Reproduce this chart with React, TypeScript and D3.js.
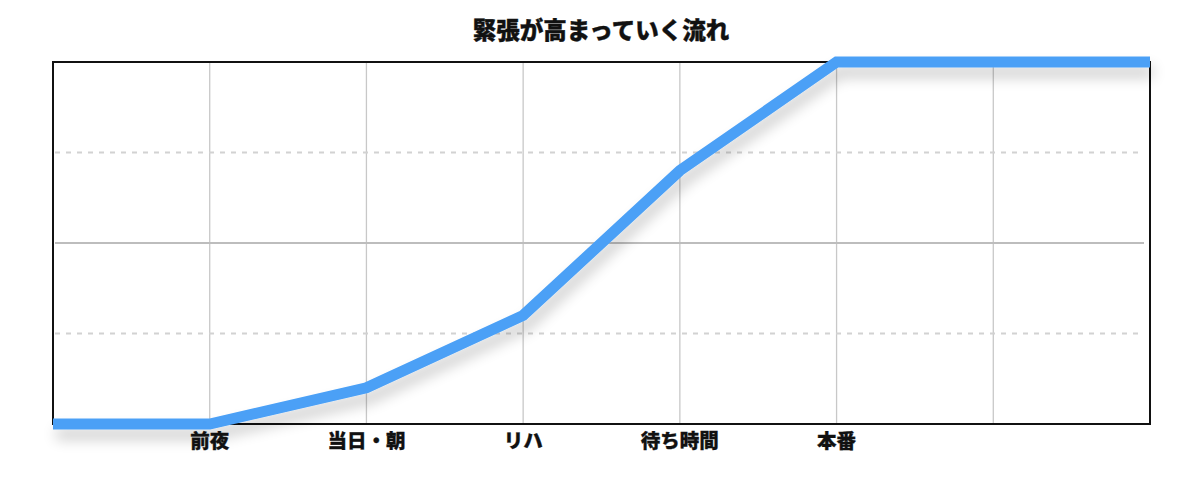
import React from "react";
import * as d3 from "d3";

const categories = ["", "前夜", "当日・朝", "リハ", "待ち時間", "本番", "", ""];
const tension = [0, 0, 10, 30, 70, 100, 100, 100];
const yTicks = [25, 50, 75];
const title = "緊張が高まっていく流れ";

export default function App() {
  const W = 1200, H = 487;
  const left = 53, right = 1150, top = 62, bottom = 424;
  const x = d3.scaleLinear().domain([0, categories.length - 1]).range([left, right]);
  const y = d3.scaleLinear().domain([0, 100]).range([bottom, top]);
  const line = d3.line<number>().x((_, i) => x(i)).y((d) => y(d));
  const font = "'Noto Sans CJK JP', 'Noto Sans', sans-serif";
  return (
    <svg width={W} height={H} style={{ position: "absolute", left: 0, top: 0, background: "#fff" }}>
      <defs>
        <filter id="sh" x="-10%" y="-30%" width="120%" height="160%">
          <feGaussianBlur in="SourceAlpha" stdDeviation="7" />
          <feOffset dx="3" dy="10" result="b" />
          <feComponentTransfer><feFuncA type="linear" slope="0.2" /></feComponentTransfer>
          <feMerge><feMergeNode /><feMergeNode in="SourceGraphic" /></feMerge>
        </filter>
      </defs>
      <text x={601} y={39} textAnchor="middle" fontFamily={font} fontWeight={900} fontSize={23.5} fill="#111" stroke="#111" strokeWidth={0.4}>{title}</text>
      {categories.map((_, i) => (i > 0 && i < categories.length - 1 ? (
        <line key={"v" + i} x1={x(i)} x2={x(i)} y1={top} y2={bottom} stroke="#c8c8c8" strokeWidth={1.3} />
      ) : null))}
      {yTicks.map((t) => (
        <line key={"h" + t} x1={left + 2} x2={right - 6} y1={y(t)} y2={y(t)}
          stroke={t === 50 ? "#bdbdbd" : "#d2d2d2"} strokeWidth={2}
          strokeDasharray={t === 50 ? undefined : "5 6"} />
      ))}
      <rect x={left} y={top} width={right - left} height={bottom - top} fill="none" stroke="#111" strokeWidth={2} />
      <path d={line(tension) || ""} fill="none" stroke="#4ba0f6" strokeWidth={11} strokeLinejoin="miter" strokeLinecap="butt" filter="url(#sh)" />
      {categories.map((c, i) => c ? (
        <text key={"l" + i} x={x(i)} y={448} textAnchor="middle" fontFamily={font} fontWeight={900} fontSize={19.5} fill="#111" stroke="#111" strokeWidth={0.3}>{c}</text>
      ) : null)}
    </svg>
  );
}
